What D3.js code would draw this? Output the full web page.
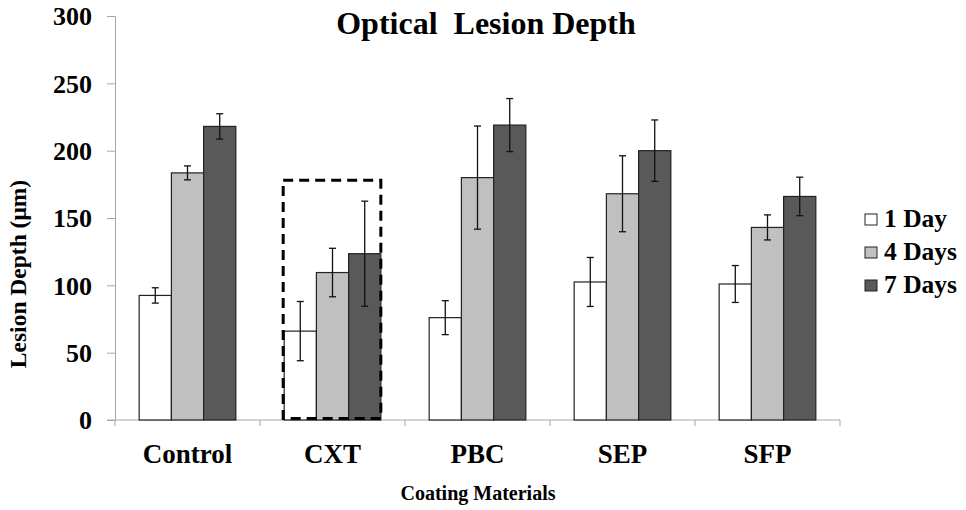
<!DOCTYPE html>
<html>
<head>
<meta charset="utf-8">
<script src="https://cdn.jsdelivr.net/npm/d3@7"></script>
<style>
  body { margin: 0; background: #fff; }
  text { font-family: "Liberation Serif", "Times New Roman", serif; font-weight: bold; fill: #000; }
</style>
</head>
<body>
<div id="plotDiv"></div>
<script>
// --- Data ---
const categories = ["Control", "CXT", "PBC", "SEP", "SFP"];
const seriesNames = ["1 Day", "4 Days", "7 Days"];
const day1 = [92.5, 66, 76, 102.5, 101];
const day4 = [183.5, 109.5, 180, 168, 143];
const day7 = [218, 123.5, 219, 200, 166];
const day1Err = [5.7, 22, 12.6, 18.2, 13.7];
const day4Err = [5.2, 18, 38.3, 28.2, 9.3];
const day7Err = [9.4, 39, 19.7, 22.8, 14.3];
const yTicks = [0, 50, 100, 150, 200, 250, 300];
const highlight = {category: "CXT", top: 178}; // dashed box round CXT
const colors = ["#ffffff", "#c0c0c0", "#595959"];

const means = [day1, day4, day7];
const errs = [day1Err, day4Err, day7Err];

// --- SVG Setup ---
const width = 966, height = 510;
const svg = d3.select("#plotDiv").append("svg")
  .attr("width", width)
  .attr("height", height);

// --- Scales ---
const x = d3.scaleBand().domain(categories).range([115, 840]);
const xSeries = d3.scaleBand().domain(seriesNames)
  .range([0, x.bandwidth()]).paddingOuter(0.75).paddingInner(0);
const y = d3.scaleLinear().domain([0, 300]).range([420, 16]);

// --- Axes ---
const axisColor = "#a6a6a6";
const yAxis = svg.append("g")
  .attr("transform", "translate(115,0)")
  .call(d3.axisLeft(y).tickValues(yTicks).tickSize(8).tickPadding(15));
yAxis.select(".domain").attr("stroke", axisColor);
yAxis.selectAll(".tick line").attr("stroke", axisColor);
yAxis.selectAll(".tick text").style("font-size", "26px").attr("dy", "0.34em");

// x axis line & ticks at category boundaries
svg.append("line")
  .attr("x1", 107).attr("x2", x.range()[1])
  .attr("y1", y(0)).attr("y2", y(0))
  .attr("stroke", axisColor);
const bounds = categories.map(c => x(c)).concat([x.range()[1]]);
svg.append("g").selectAll("line")
  .data(bounds)
  .join("line")
  .attr("x1", d => d).attr("x2", d => d)
  .attr("y1", y(0)).attr("y2", y(0) + 6)
  .attr("stroke", axisColor);

svg.append("g").selectAll("text")
  .data(categories)
  .join("text")
  .attr("x", d => x(d) + x.bandwidth() / 2)
  .attr("y", 463)
  .attr("text-anchor", "middle")
  .style("font-size", "27px")
  .text(d => d);

// --- Bars ---
const barData = [];
seriesNames.forEach((s, si) => {
  categories.forEach((c, ci) => {
    barData.push({cat: c, series: s, si: si, v: means[si][ci], e: errs[si][ci]});
  });
});

svg.append("g").selectAll("rect")
  .data(barData)
  .join("rect")
  .attr("x", d => x(d.cat) + xSeries(d.series))
  .attr("y", d => y(d.v))
  .attr("width", xSeries.bandwidth())
  .attr("height", d => y(0) - y(d.v))
  .attr("fill", d => colors[d.si])
  .attr("stroke", "#222")
  .attr("stroke-width", 1.2);

// --- Error bars ---
const eb = svg.append("g").attr("stroke", "#111").attr("stroke-width", 1.3);
const cx = d => x(d.cat) + xSeries(d.series) + xSeries.bandwidth() / 2;
eb.selectAll(".stem").data(barData).join("line").attr("class", "stem")
  .attr("x1", cx).attr("x2", cx)
  .attr("y1", d => y(d.v + d.e)).attr("y2", d => y(d.v - d.e));
eb.selectAll(".capT").data(barData).join("line").attr("class", "capT")
  .attr("x1", d => cx(d) - 3.5).attr("x2", d => cx(d) + 3.5)
  .attr("y1", d => y(d.v + d.e)).attr("y2", d => y(d.v + d.e));
eb.selectAll(".capB").data(barData).join("line").attr("class", "capB")
  .attr("x1", d => cx(d) - 3.5).attr("x2", d => cx(d) + 3.5)
  .attr("y1", d => y(d.v - d.e)).attr("y2", d => y(d.v - d.e));

// --- Dashed highlight box ---
svg.append("rect")
  .attr("x", x(highlight.category) + xSeries(seriesNames[0]) - 1)
  .attr("y", y(highlight.top))
  .attr("width", xSeries.bandwidth() * 3 + 1)
  .attr("height", y(0) - y(highlight.top) - 1.5)
  .attr("fill", "none")
  .attr("stroke", "#000")
  .attr("stroke-width", 3)
  .attr("stroke-dasharray", "10,6");

// --- Titles ---
svg.append("text")
  .attr("x", 486).attr("y", 34)
  .attr("text-anchor", "middle")
  .style("font-size", "32px")
  .style("white-space", "pre")
  .text("Optical\u00a0 Lesion Depth");

svg.append("text")
  .attr("transform", "translate(26,274) rotate(-90)")
  .attr("text-anchor", "middle")
  .style("font-size", "23.5px")
  .text("Lesion Depth (μm)");

svg.append("text")
  .attr("x", 478).attr("y", 500)
  .attr("text-anchor", "middle")
  .style("font-size", "20px")
  .text("Coating Materials");

// --- Legend ---
const legend = svg.append("g").selectAll("g")
  .data(seriesNames)
  .join("g")
  .attr("transform", (d, i) => `translate(865,${227 + i * 33})`);
legend.append("rect")
  .attr("x", 0).attr("y", -13)
  .attr("width", 12).attr("height", 11)
  .attr("fill", (d, i) => colors[i])
  .attr("stroke", "#222");
legend.append("text")
  .attr("x", 19).attr("y", 0)
  .style("font-size", "25.5px")
  .text(d => d);
</script>
</body>
</html>
